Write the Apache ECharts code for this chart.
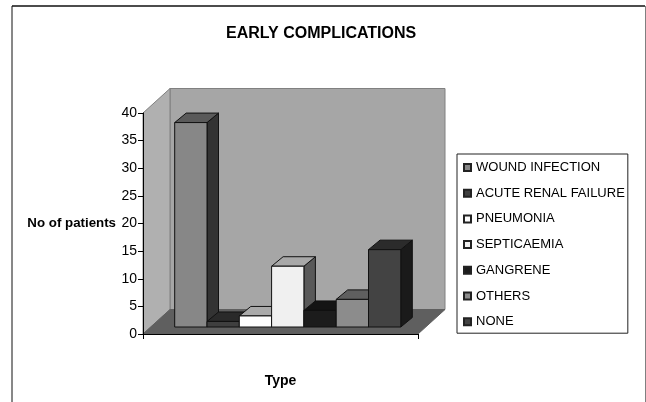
<!DOCTYPE html>
<html>
<head>
<meta charset="utf-8">
<style>html,body{margin:0;background:#fff}#chart{width:646px;height:402px}</style>
<script src="https://cdn.jsdelivr.net/npm/echarts@6/dist/echarts.min.js"></script>
</head>
<body>
<div id="chart"></div>
<script>
var categories = ['Type'];
var seriesNames = ['WOUND INFECTION', 'ACUTE RENAL FAILURE', 'PNEUMONIA', 'SEPTICAEMIA', 'GANGRENE', 'OTHERS', 'NONE'];
var seriesValues = [37, 1, 2, 11, 3, 5, 14];
var yTicks = { min: 0, max: 40, interval: 5 };

var frontColors = ['#878787', '#3f3f3f', '#fdfdfd', '#f0f0f0', '#1c1c1c', '#8c8c8c', '#434343'];
var sideColors = ['#333333', '#1c1c1c', '#595959', '#595959', '#111111', '#3a3a3a', '#1a1a1a'];
var topColors = ['#5a5a5a', '#2a2a2a', '#aaaaaa', '#a8a8a8', '#141414', '#5f5f5f', '#2b2b2b'];

var font = '"Liberation Sans", Arial, sans-serif';
var wallDx = 27, wallDy = 24.5;
var frontDx = 7.7, frontDy = 7;
var depthDx = 11.5, depthDy = 9.5;
var groupInset = 24, barWidth = 32.3;

function poly(points, fill, stroke) {
    return {
        type: 'polygon',
        shape: { points: points },
        style: { fill: fill, stroke: stroke, lineWidth: 1 }
    };
}

function frameLine(x1, y1, x2, y2, color, width) {
    return {
        type: 'line',
        silent: true,
        z: -1,
        shape: { x1: x1, y1: y1, x2: x2, y2: y2 },
        style: { stroke: color, lineWidth: width }
    };
}

function renderWalls(params, api) {
    var cs = params.coordSys;
    var l = cs.x, r = cs.x + cs.width;
    var top = api.coord([0, yTicks.max])[1];
    var bot = api.coord([0, yTicks.min])[1];
    var bl = l + wallDx, br = r + wallDx;
    return {
        type: 'group',
        children: [
            poly([[bl, top - wallDy], [br, top - wallDy], [br, bot - wallDy], [bl, bot - wallDy]], '#a6a6a6', '#808080'),
            poly([[l, top], [bl, top - wallDy], [bl, bot - wallDy], [l, bot]], '#b0b0b0', '#808080'),
            poly([[l, bot], [bl, bot - wallDy], [br, bot - wallDy], [r, bot]], '#5f5f5f', '#5f5f5f')
        ]
    };
}

function makeRenderBar(i) {
    return function (params, api) {
        var cs = params.coordSys;
        var x0 = cs.x + frontDx + groupInset + i * barWidth;
        var x1 = x0 + barWidth;
        var y0 = api.coord([api.value(0), 0])[1] - frontDy;
        var y1 = api.coord([api.value(0), api.value(1)])[1] - frontDy;
        return {
            type: 'group',
            children: [
                poly([[x1, y1], [x1 + depthDx, y1 - depthDy], [x1 + depthDx, y0 - depthDy], [x1, y0]], sideColors[i], '#111'),
                poly([[x0, y1], [x0 + depthDx, y1 - depthDy], [x1 + depthDx, y1 - depthDy], [x1, y1]], topColors[i], '#111'),
                poly([[x0, y1], [x1, y1], [x1, y0], [x0, y0]], frontColors[i], '#111')
            ]
        };
    };
}

var series = [{
    type: 'custom',
    silent: true,
    z: 1,
    data: [[0, 0]],
    renderItem: renderWalls
}];
seriesNames.forEach(function (name, i) {
    series.push({
        name: name,
        type: 'custom',
        silent: true,
        z: 2,
        itemStyle: { color: frontColors[i], borderColor: '#222', borderWidth: 0.7 },
        encode: { x: 0, y: 1 },
        data: [[0, seriesValues[i]]],
        renderItem: makeRenderBar(i)
    });
});

var myChart = echarts.init(document.getElementById('chart'), null, { renderer: 'canvas' });
var option = {
    animation: false,
    backgroundColor: '#fff',
    textStyle: { fontFamily: font, color: '#000' },
    title: {
        text: 'EARLY COMPLICATIONS',
        left: 226,
        top: 26,
        padding: 0,
        textStyle: { fontFamily: font, fontSize: 16, fontWeight: 'bold', color: '#000' }
    },
    grid: { left: 143, right: 228, top: 113, bottom: 68 },
    xAxis: {
        type: 'category',
        data: categories,
        z: 3,
        name: 'Type',
        nameLocation: 'middle',
        nameGap: 40,
        nameTextStyle: { fontFamily: font, fontSize: 14, fontWeight: 'bold', color: '#000' },
        axisLine: { lineStyle: { color: '#000', width: 1 } },
        axisTick: { show: true, length: 5, alignWithLabel: false, lineStyle: { color: '#000' } },
        axisLabel: { show: false },
        splitLine: { show: false }
    },
    yAxis: {
        type: 'value',
        min: yTicks.min,
        max: yTicks.max,
        interval: yTicks.interval,
        z: 3,
        name: 'No of patients',
        nameLocation: 'middle',
        nameRotate: 0,
        nameGap: 27,
        nameTextStyle: { fontFamily: font, fontSize: 13.3, fontWeight: 'bold', color: '#000' },
        axisLine: { show: true, lineStyle: { color: '#000', width: 1 } },
        axisTick: { show: true, length: 5, lineStyle: { color: '#000' } },
        axisLabel: { fontFamily: font, fontSize: 14, color: '#000', margin: 6 },
        splitLine: { show: false }
    },
    legend: {
        orient: 'vertical',
        left: 457,
        top: 154,
        padding: [6, 3, 4, 6],
        icon: 'rect',
        itemWidth: 7,
        itemHeight: 7,
        itemGap: 10.7,
        borderColor: '#222',
        borderWidth: 1,
        selectedMode: false,
        data: seriesNames,
        textStyle: { fontFamily: font, fontSize: 13, color: '#000', height: 15, lineHeight: 15 }
    },
    graphic: [
        frameLine(12, 6, 645, 6, '#111', 1.5),
        frameLine(12, 6, 12, 402, '#111', 1),
        frameLine(645.5, 6, 645.5, 402, '#808080', 1)
    ],
    series: series
};
myChart.setOption(option);
</script>
</body>
</html>
